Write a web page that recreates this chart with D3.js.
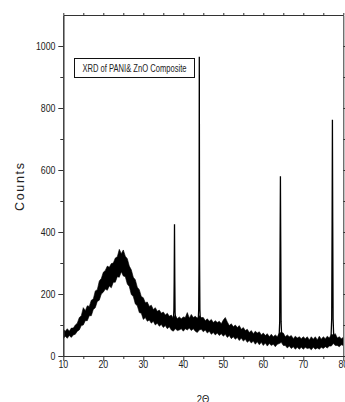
<!DOCTYPE html>
<html>
<head>
<meta charset="utf-8">
<script src="https://cdn.jsdelivr.net/npm/d3@7/dist/d3.min.js"></script>
<style>
  body { margin: 0; background: #fff; }
  svg { display: block; }
  text { font-family: "Liberation Sans", Arial, sans-serif; fill: #222; }
</style>
</head>
<body>
<div id="chart"></div>
<script>
// broad noisy band of the pattern: 2theta and low / high edge of the trace
var twoTheta = [10,10.5,11,11.5,12,12.5,13,13.5,14,14.5,15,15.5,16,16.5,17,17.5,18,18.5,19,19.5,
  20,20.5,21,21.5,22,22.5,23,23.5,24,24.5,25,25.5,26,26.5,27,27.5,28,28.5,29,29.5,
  30,30.5,31,31.5,32,32.5,33,33.5,34,34.5,35,35.5,36,36.5,37,37.5,38,38.5,39,39.5,
  40,40.5,41,41.5,42,42.5,43,43.5,44,44.5,45,45.5,46,46.5,47,47.5,48,48.5,49,49.5,
  50,50.5,51,51.5,52,52.5,53,53.5,54,54.5,55,55.5,56,56.5,57,57.5,58,58.5,59,59.5,
  60,60.5,61,61.5,62,62.5,63,63.5,64,64.5,65,65.5,66,66.5,67,67.5,68,68.5,69,69.5,
  70,70.5,71,71.5,72,72.5,73,73.5,74,74.5,75,75.5,76,76.5,77,77.5,78,78.5,79,79.5,80];
var countsLow = [56,64,57,66,60,68,70,80,84,98,
  100,114,114,130,130,150,156,176,180,200,
  206,216,212,226,220,238,238,256,254,272,
  258,256,232,224,198,192,168,162,140,138,
  118,124,112,116,106,112,100,106,96,102,
  92,98,88,94,84,80,88,82,84,88,
  80,88,84,90,82,88,80,76,84,86,
  78,84,74,80,70,76,68,74,66,72,
  64,70,60,66,56,62,54,60,50,58,
  48,54,44,50,42,48,38,46,36,44,
  34,42,32,40,34,38,30,38,40,44,
  34,34,26,32,24,30,22,28,22,28,
  22,28,24,26,20,28,22,26,22,28,
  24,30,26,32,32,40,34,34,30,36,34];
var countsHigh = [86,80,88,80,90,90,100,106,124,130,
  156,146,162,160,180,184,210,214,242,250,
  270,276,290,286,298,300,316,320,344,330,
  342,322,314,290,278,254,246,222,214,192,
  188,172,174,160,164,150,156,144,148,138,
  142,132,138,128,132,122,132,120,126,120,
  126,124,140,122,134,124,128,122,130,124,
  124,114,120,112,118,108,114,108,112,104,
  116,124,110,98,104,94,100,92,98,86,
  92,82,86,76,82,72,80,74,78,68,
  74,66,72,62,70,62,68,62,74,76,
  74,62,68,62,66,56,64,58,62,56,
  62,56,62,52,62,54,62,52,64,54,
  62,56,64,58,70,68,72,58,62,56,60];

// sharp reflections
var peakX = [
  [37.5, 37.65, 37.72, 37.8, 37.88, 37.95, 38.1],
  [43.7, 43.85, 43.93, 44.0, 44.07, 44.15, 44.3],
  [63.95, 64.1, 64.2, 64.28, 64.36, 64.45, 64.6],
  [76.95, 77.1, 77.2, 77.28, 77.36, 77.45, 77.6]
];
var peakY = [
  [110, 150, 240, 425, 240, 140, 108],
  [105, 150, 300, 965, 300, 150, 105],
  [62, 110, 370, 580, 370, 110, 60],
  [66, 120, 430, 762, 430, 120, 64]
];

var xTicks = [10, 20, 30, 40, 50, 60, 70, 80];
var xMinor = [15, 25, 35, 45, 55, 65, 75];
var yTicks = [0, 200, 400, 600, 800, 1000];
var yMinor = [100, 300, 500, 700, 900];

var WIDTH = 345, HEIGHT = 402,
  MARGINS = { top: 15, right: 1.7, bottom: 46, left: 63.3 };

var svg = d3.select("#chart").append("svg")
  .attr("width", WIDTH)
  .attr("height", HEIGHT);

var xRange = d3.scaleLinear().domain([10, 80]).range([MARGINS.left, WIDTH - MARGINS.right]);
var yRange = d3.scaleLinear().domain([0, 1100]).range([HEIGHT - MARGINS.bottom, MARGINS.top]);

svg.append("clipPath").attr("id", "plotclip")
  .append("rect")
  .attr("x", MARGINS.left).attr("y", MARGINS.top)
  .attr("width", WIDTH - MARGINS.left - MARGINS.right)
  .attr("height", HEIGHT - MARGINS.top - MARGINS.bottom);

var plot = svg.append("g").attr("clip-path", "url(#plotclip)");

var band = twoTheta.map(function (t, i) {
  return { x: t, lo: countsLow[i], hi: countsHigh[i] };
});

var areaFunc = d3.area()
  .x(function (d) { return xRange(d.x); })
  .y0(function (d) { return yRange(d.lo); })
  .y1(function (d) { return yRange(d.hi); });

plot.append("path")
  .attr("d", areaFunc(band))
  .attr("fill", "#000")
  .attr("stroke", "#000")
  .attr("stroke-width", 0.6);

var lineFunc = d3.line()
  .x(function (d) { return xRange(d[0]); })
  .y(function (d) { return yRange(d[1]); });

peakX.forEach(function (xs, k) {
  var pts = xs.map(function (v, i) { return [v, peakY[k][i]]; });
  plot.append("path")
    .attr("d", lineFunc(pts))
    .attr("fill", "none")
    .attr("stroke", "#000")
    .attr("stroke-width", 1.3);
});

// axes
var axisColor = "#333";
function styleAxis(g) {
  g.selectAll("path, line").attr("stroke", axisColor);
  g.selectAll("text").remove();
}

var bottomY = HEIGHT - MARGINS.bottom;
svg.append("g").attr("transform", "translate(0," + bottomY + ")")
  .call(d3.axisBottom(xRange).tickValues(xTicks).tickSize(5).tickSizeOuter(0))
  .call(styleAxis);
svg.append("g").attr("transform", "translate(0," + bottomY + ")")
  .call(d3.axisBottom(xRange).tickValues(xMinor).tickSize(3).tickSizeOuter(0))
  .call(styleAxis);

svg.append("g").attr("transform", "translate(" + MARGINS.left + ",0)")
  .call(d3.axisLeft(yRange).tickValues(yTicks).tickSize(5).tickSizeOuter(0))
  .call(styleAxis);
svg.append("g").attr("transform", "translate(" + MARGINS.left + ",0)")
  .call(d3.axisLeft(yRange).tickValues(yMinor).tickSize(3).tickSizeOuter(0))
  .call(styleAxis);

svg.append("g").attr("transform", "translate(0," + MARGINS.top + ")")
  .call(d3.axisTop(xRange).tickValues(xTicks.concat(xMinor)).tickSize(2).tickSizeOuter(0))
  .call(styleAxis);

svg.append("g").attr("transform", "translate(" + (WIDTH - MARGINS.right) + ",0)")
  .call(d3.axisRight(yRange).tickValues(yTicks.concat(yMinor)).tickSize(3).tickSizeOuter(0))
  .call(styleAxis);

// narrow tick labels
svg.append("g").selectAll("g").data(yTicks).enter().append("g")
  .attr("transform", function (d) { return "translate(55.5," + (yRange(d) + 4) + ") scale(0.8,1)"; })
  .append("text")
  .attr("text-anchor", "end")
  .style("font-size", "11px")
  .text(function (d) { return d; });

svg.append("g").selectAll("g").data(xTicks).enter().append("g")
  .attr("transform", function (d) { return "translate(" + xRange(d) + "," + (bottomY + 12) + ") scale(0.8,1)"; })
  .append("text")
  .attr("text-anchor", "middle")
  .style("font-size", "11px")
  .text(function (d) { return d; });

// axis titles
svg.append("text")
  .attr("transform", "translate(24," + 187 + ") rotate(-90)")
  .attr("text-anchor", "middle")
  .style("font-size", "12.5px")
  .attr("textLength", 48)
  .attr("lengthAdjust", "spacing")
  .text("Counts");

svg.append("g")
  .attr("transform", "translate(203,403) scale(0.85,1)")
  .append("text")
  .attr("text-anchor", "middle")
  .style("font-size", "11px")
  .text("2Θ");

// legend box
svg.append("rect")
  .attr("x", 74.5).attr("y", 58.5)
  .attr("width", 120).attr("height", 19)
  .attr("fill", "#fff")
  .attr("stroke", "#111")
  .attr("stroke-width", 1);

svg.append("text")
  .attr("x", 134.5).attr("y", 71.5)
  .attr("text-anchor", "middle")
  .style("font-size", "10px")
  .attr("textLength", 104)
  .attr("lengthAdjust", "spacingAndGlyphs")
  .text("XRD of PANI& ZnO Composite");
</script>
</body>
</html>
